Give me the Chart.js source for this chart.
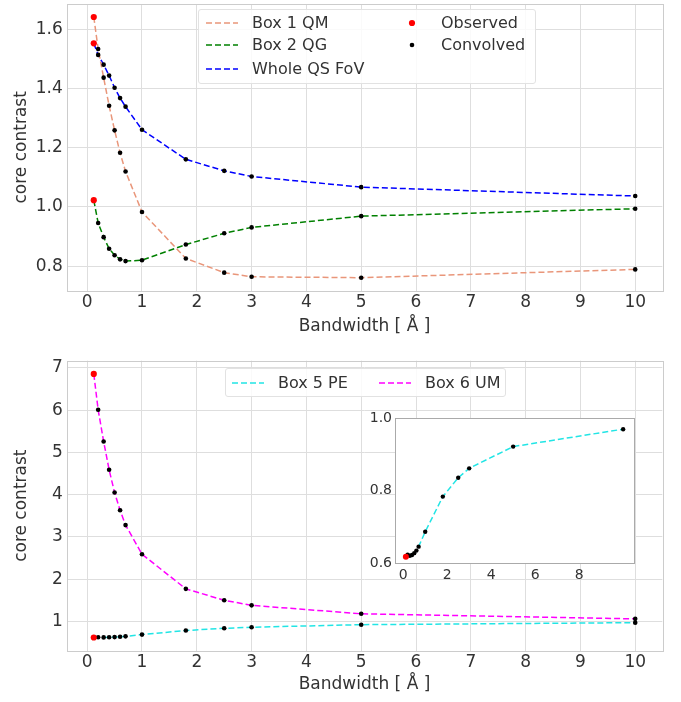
<!DOCTYPE html>
<html>
<head>
<meta charset="utf-8">
<script src="https://cdn.jsdelivr.net/npm/chart.js@4.4.1/dist/chart.umd.min.js"></script>
<style>
  body { margin: 0; background: #fff; font-family: 'DejaVu Sans', sans-serif; color: #333; }
  #wrap { position: relative; width: 681px; height: 702px; overflow: hidden; }
  canvas { position: absolute; }
  .legend { position: absolute; background: rgba(255,255,255,0.85); border: 1px solid #e2e2e2; border-radius: 3px; }
  .item { position: absolute; font-size: 16px; line-height: 16px; white-space: nowrap; }
  .item svg { position: absolute; }
</style>
</head>
<body>
<div id="wrap">
  <canvas id="top" width="681" height="345" style="left:0;top:0"></canvas>
  <canvas id="bottom" width="681" height="357" style="left:0;top:345px"></canvas>
  <canvas id="inset" width="290" height="175" style="left:355px;top:410px"></canvas>
  <div id="legTop" class="legend" style="left:198px;top:9px;width:336px;height:73px"></div>
  <div id="legBot" class="legend" style="left:225px;top:368px;width:279px;height:27px"></div>
</div>
<script>
// bandwidth in Angstrom (first point = observed profile)
const bandwidth = [0.12, 0.2, 0.3, 0.4, 0.5, 0.6, 0.7, 1.0, 1.8, 2.5, 3.0, 5.0, 10.0];

const box1QM  = [1.642, 1.534, 1.437, 1.342, 1.259, 1.183, 1.120, 0.983, 0.826, 0.778, 0.764, 0.761, 0.789];
const box2QG  = [1.023, 0.946, 0.898, 0.859, 0.837, 0.823, 0.817, 0.820, 0.873, 0.911, 0.931, 0.969, 0.994];
const wholeQS = [1.553, 1.514, 1.481, 1.444, 1.403, 1.368, 1.339, 1.261, 1.161, 1.122, 1.103, 1.067, 1.037];
const box5PE  = [0.618, 0.624, 0.621, 0.623, 0.628, 0.635, 0.646, 0.687, 0.784, 0.836, 0.862, 0.922, 0.970];
const box6UM  = [6.86, 6.01, 5.26, 4.59, 4.05, 3.63, 3.28, 2.59, 1.77, 1.50, 1.38, 1.18, 1.06];

const xTicks = [0, 1, 2, 3, 4, 5, 6, 7, 8, 9, 10];
const yTicksTop = [0.8, 1.0, 1.2, 1.4, 1.6];
const yTicksBot = [1, 2, 3, 4, 5, 6, 7];
const xTicksInset = [0, 2, 4, 6, 8];
const yTicksInset = [0.6, 0.8, 1.0];

const FONT = 'DejaVu Sans';
const TXT = '#333';
const GRID = '#dedede';

function pts(ys, from, to) {
    const out = [];
    for (let i = from; i < to; i++) out.push({ x: bandwidth[i], y: ys[i] });
    return out;
}

function lineSet(label, ys, color) {
    return {
        label: label, data: pts(ys, 0, ys.length), showLine: true,
        borderColor: color, borderWidth: 1.5, borderDash: [6, 3],
        pointRadius: 0, tension: 0, order: 3
    };
}
function convSet(ys, r) {
    return { data: pts(ys, 1, ys.length), pointRadius: r || 2.3, pointBackgroundColor: '#000', pointBorderWidth: 0, order: 2 };
}
function obsSet(ys, r) {
    return { data: pts(ys, 0, 1), pointRadius: r || 3.1, pointBackgroundColor: 'red', pointBorderWidth: 0, order: 1 };
}

function fixTicks(list) {
    return function (scale) { scale.ticks = list.map(v => ({ value: v })); };
}
// fixed scale size, no extra padding for overhanging labels
function fixSize(w, h) {
    return function (s) {
        if (w) s.width = w;
        if (h) s.height = h;
        s.paddingTop = 0; s.paddingBottom = 0; s.paddingLeft = 0; s.paddingRight = 0;
    };
}

// draws the full box around the plot area, white fill if asked
const frame = {
    id: 'frame',
    beforeDraw(chart, args, opts) {
        if (!opts.fill) return;
        const a = chart.chartArea, c = chart.ctx;
        c.save();
        c.fillStyle = '#fff';
        c.fillRect(a.left, a.top, a.right - a.left, a.bottom - a.top);
        c.restore();
    },
    beforeDatasetsDraw(chart, args, opts) {
        const a = chart.chartArea, c = chart.ctx;
        c.save();
        c.strokeStyle = opts.color || '#cccccc';
        c.lineWidth = 1;
        c.strokeRect(Math.round(a.left) + 0.5, Math.round(a.top) + 0.5,
                     Math.round(a.right - a.left), Math.round(a.bottom - a.top));
        c.restore();
    }
};

function mainOptions(yMin, yMax, yList, yFmt, pad, xH, titleBottom) {
    return {
        animation: false,
        responsive: false,
        layout: { padding: pad },
        plugins: { legend: { display: false }, tooltip: { enabled: false }, frame: {} },
        scales: {
            x: {
                type: 'linear', min: -0.374, max: 10.494,
                afterBuildTicks: fixTicks(xTicks),
                afterFit: fixSize(0, xH),
                grid: { color: GRID, drawTicks: false },
                border: { display: false },
                ticks: { color: TXT, padding: 2, font: { family: FONT, size: 17 } },
                title: {
                    display: true, text: 'Bandwidth [ Å ]', color: TXT,
                    font: { family: FONT, size: 17 }, padding: { top: 0, bottom: titleBottom }
                }
            },
            y: {
                type: 'linear', min: yMin, max: yMax,
                afterBuildTicks: fixTicks(yList),
                afterFit: fixSize(66.7, 0),
                grid: { color: GRID, drawTicks: false },
                border: { display: false },
                ticks: { color: TXT, padding: 4, font: { family: FONT, size: 17 }, callback: yFmt },
                title: {
                    display: true, text: 'core contrast', color: TXT,
                    font: { family: FONT, size: 17 }, padding: { top: 11.8, bottom: 0 }
                }
            }
        }
    };
}

new Chart(document.getElementById('top'), {
    type: 'scatter',
    data: {
        datasets: [
            lineSet('Box 1 QM', box1QM, 'darksalmon'),
            lineSet('Box 2 QG', box2QG, 'green'),
            lineSet('Whole QS FoV', wholeQS, 'blue'),
            convSet(box1QM), convSet(box2QG), convSet(wholeQS),
            obsSet(box1QM), obsSet(box2QG), obsSet(wholeQS)
        ]
    },
    options: mainOptions(0.717, 1.686, yTicksTop, v => v.toFixed(1),
        { top: 2, right: 18.7, left: 0, bottom: 0 }, 54.3, 8.3),
    plugins: [frame]
});

new Chart(document.getElementById('bottom'), {
    type: 'scatter',
    data: {
        datasets: [
            lineSet('Box 5 PE', box5PE, '#22e5e5'),
            lineSet('Box 6 UM', box6UM, 'magenta'),
            convSet(box5PE), convSet(box6UM),
            obsSet(box5PE), obsSet(box6UM)
        ]
    },
    options: mainOptions(0.306, 7.172, yTicksBot, v => String(v),
        { top: 15.7, right: 18.7, left: 0, bottom: 0 }, 51.3, 6.8),
    plugins: [frame]
});

new Chart(document.getElementById('inset'), {
    type: 'scatter',
    data: {
        datasets: [lineSet('Box 5 PE', box5PE, '#22e5e5'), convSet(box5PE, 2.2), obsSet(box5PE, 3)]
    },
    options: {
        animation: false,
        responsive: false,
        layout: { padding: { top: 8.3, right: 11, left: 0, bottom: 0 } },
        plugins: { legend: { display: false }, tooltip: { enabled: false }, frame: { fill: true, color: '#aaaaaa' } },
        scales: {
            x: {
                type: 'linear', min: -0.374, max: 10.494,
                afterBuildTicks: fixTicks(xTicksInset),
                afterFit: fixSize(0, 21.7),
                grid: { display: false, drawTicks: false },
                border: { display: false },
                ticks: { color: TXT, padding: 4, font: { family: FONT, size: 14 } }
            },
            y: {
                type: 'linear', min: 0.6, max: 1.0,
                afterBuildTicks: fixTicks(yTicksInset),
                afterFit: fixSize(40, 0),
                grid: { display: false, drawTicks: false },
                border: { display: false },
                ticks: { color: TXT, padding: 3, font: { family: FONT, size: 14 }, callback: v => v.toFixed(1) }
            }
        }
    },
    plugins: [frame]
});

// legends as html text
function lineItem(box, x, y, color, text, textX) {
    const d = document.createElement('div');
    d.className = 'item';
    d.style.left = '0px'; d.style.top = (y - 8) + 'px';
    d.innerHTML = '<svg width="34" height="6" style="left:' + x + 'px;top:5px">' +
        '<line x1="0" y1="3" x2="32" y2="3" stroke="' + color + '" stroke-width="1.5" stroke-dasharray="6 3"/></svg>' +
        '<span style="position:absolute;left:' + textX + 'px;top:0">' + text + '</span>';
    box.appendChild(d);
}
function dotItem(box, x, y, color, r, text, textX) {
    const d = document.createElement('div');
    d.className = 'item';
    d.style.left = '0px'; d.style.top = (y - 8) + 'px';
    d.innerHTML = '<svg width="10" height="10" style="left:' + (x - 5) + 'px;top:3px">' +
        '<circle cx="5" cy="5" r="' + r + '" fill="' + color + '"/></svg>' +
        '<span style="position:absolute;left:' + textX + 'px;top:0">' + text + '</span>';
    box.appendChild(d);
}

const legTop = document.getElementById('legTop');
lineItem(legTop, 7, 12.7, 'darksalmon', 'Box 1 QM', 53);
lineItem(legTop, 7, 35.3, 'green', 'Box 2 QG', 53);
lineItem(legTop, 7, 59.3, 'blue', 'Whole QS FoV', 53);
dotItem(legTop, 213, 12.7, 'red', 3.1, 'Observed', 242);
dotItem(legTop, 213, 35.3, '#000', 2.3, 'Convolved', 242);

const legBot = document.getElementById('legBot');
lineItem(legBot, 6, 13.7, '#22e5e5', 'Box 5 PE', 52);
lineItem(legBot, 153, 13.7, 'magenta', 'Box 6 UM', 199);
</script>
</body>
</html>
